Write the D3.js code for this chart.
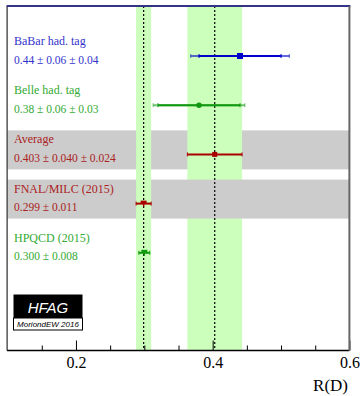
<!DOCTYPE html>
<html>
<head>
<meta charset="utf-8">
<script src="https://cdn.jsdelivr.net/npm/d3@7"></script>
<style>
  body { margin: 0; background: #fff; }
  svg { display: block; }
</style>
</head>
<body>
<div id="chart"></div>
<script>
// Measurements and predictions of R(D)
var names = ["BaBar had. tag", "Belle had. tag", "Average", "FNAL/MILC (2015)", "HPQCD (2015)"];
var valueLabels = ["0.44 \u00b1 0.06 \u00b1 0.04", "0.38 \u00b1 0.06 \u00b1 0.03",
  "0.403 \u00b1 0.040 \u00b1 0.024", "0.299 \u00b1 0.011", "0.300 \u00b1 0.008"];
var values = [0.44, 0.38, 0.403, 0.299, 0.300];
var statErr = [0.06, 0.06, 0.040, 0.011, 0.008];
var systErr = [0.04, 0.03, 0, 0, 0];
var markers = ["square", "circle", "square", "flat", "flat"];
var colors = ["#0000cc", "#119911", "#aa0000", "#aa0000", "#119911"];
var textColors = ["#3333cc", "#33aa33", "#aa2222", "#aa2222", "#33aa33"];
var shadedRows = [2, 3];

// bands: FNAL/MILC prediction and the average
var bandCenters = [0.299, 0.403];
var bandHalfWidths = [0.011, 0.040];

var xTicksMajor = [0.2, 0.4, 0.6];
var xTicksMinor = [0.15, 0.25, 0.3, 0.35, 0.45, 0.5, 0.55];

var width = 363, height = 396,
  plotLeft = 7.6, plotRight = 349.4, plotTop = 6, plotBottom = 350.5;

var x = d3.scaleLinear().domain([0.1, 0.6]).range([plotLeft, plotRight]);
var y = d3.scaleLinear().domain([0, 4]).range([56, 252.8]);

var svg = d3.select("#chart").append("svg")
  .attr("width", width)
  .attr("height", height);

var serif = '"Liberation Serif", "Times New Roman", Times, serif';

// grey rows (average row first, then wide band, FNAL row, narrow band)
svg.append("rect")
  .attr("x", plotLeft).attr("width", plotRight - plotLeft)
  .attr("y", y(shadedRows[0]) - 24).attr("height", 39)
  .style("fill", "#cccccc");

svg.append("rect")
  .attr("x", x(bandCenters[1] - bandHalfWidths[1]))
  .attr("width", x(bandCenters[1] + bandHalfWidths[1]) - x(bandCenters[1] - bandHalfWidths[1]))
  .attr("y", plotTop).attr("height", plotBottom - plotTop)
  .style("fill", "#ccffbb");

svg.append("rect")
  .attr("x", plotLeft).attr("width", plotRight - plotLeft)
  .attr("y", y(shadedRows[1]) - 24).attr("height", 39)
  .style("fill", "#cccccc");

svg.append("rect")
  .attr("x", x(bandCenters[0] - bandHalfWidths[0]))
  .attr("width", x(bandCenters[0] + bandHalfWidths[0]) - x(bandCenters[0] - bandHalfWidths[0]))
  .attr("y", plotTop).attr("height", plotBottom - plotTop)
  .style("fill", "#ccffbb");

// dotted central lines
svg.selectAll(".centre")
  .data(bandCenters)
  .enter().append("line")
    .attr("x1", function(d) { return x(d); })
    .attr("x2", function(d) { return x(d); })
    .attr("y1", plotTop).attr("y2", plotBottom)
    .style("stroke", "#000")
    .style("stroke-width", 1.2)
    .style("stroke-dasharray", "2,2");

// labels
names.forEach(function(name, i) {
  svg.append("text")
    .text(name)
    .attr("x", 14)
    .attr("y", y(i) - 11)
    .style("font-family", serif)
    .style("font-size", "12px")
    .style("fill", textColors[i]);
  svg.append("text")
    .text(valueLabels[i])
    .attr("x", 14)
    .attr("y", y(i) + 7.5)
    .style("font-family", serif)
    .style("font-size", "11.5px")
    .style("fill", textColors[i]);
});

// error bars
values.forEach(function(v, i) {
  var yy = y(i);
  var tot = Math.sqrt(statErr[i] * statErr[i] + systErr[i] * systErr[i]);
  var g = svg.append("g");
  if (systErr[i] > 0) {
    // outer (total) part, lighter
    g.append("line")
      .attr("x1", x(v - tot)).attr("x2", x(v + tot))
      .attr("y1", yy).attr("y2", yy)
      .style("stroke", colors[i]).style("stroke-opacity", 0.6)
      .style("stroke-width", 2);
    [v - tot, v + tot].forEach(function(e) {
      g.append("line")
        .attr("x1", x(e)).attr("x2", x(e))
        .attr("y1", yy - 2).attr("y2", yy + 2)
        .style("stroke", colors[i]).style("stroke-opacity", 0.6)
        .style("stroke-width", 1);
    });
  }
  g.append("line")
    .attr("x1", x(v - statErr[i])).attr("x2", x(v + statErr[i]))
    .attr("y1", yy).attr("y2", yy)
    .style("stroke", colors[i])
    .style("stroke-width", 2);
  [v - statErr[i], v + statErr[i]].forEach(function(e) {
    g.append("line")
      .attr("x1", x(e)).attr("x2", x(e))
      .attr("y1", yy - 2).attr("y2", yy + 2)
      .style("stroke", colors[i])
      .style("stroke-width", 1);
  });

  if (markers[i] == "square") {
    var s = i == 0 ? 6 : 5;
    g.append("rect")
      .attr("x", x(v) - s / 2).attr("y", yy - s / 2)
      .attr("width", s).attr("height", s)
      .style("fill", colors[i]);
  } else if (markers[i] == "circle") {
    g.append("circle")
      .attr("cx", x(v)).attr("cy", yy).attr("r", 2.8)
      .style("fill", colors[i]);
  } else {
    g.append("rect")
      .attr("x", x(v) - 3).attr("y", yy - 3)
      .attr("width", 6).attr("height", 3)
      .style("fill", colors[i]);
    g.append("line")
      .attr("x1", x(v)).attr("x2", x(v))
      .attr("y1", yy).attr("y2", yy + 3)
      .style("stroke", colors[i]).style("stroke-width", 1.5);
  }
});

// axes
var axisG = svg.append("g")
  .attr("transform", "translate(0," + plotBottom + ")");
axisG.call(d3.axisBottom(x).tickValues(xTicksMinor).tickSize(-5).tickFormat(""));
var majorG = svg.append("g")
  .attr("transform", "translate(0," + plotBottom + ")");
majorG.call(d3.axisBottom(x).tickValues(xTicksMajor).tickSize(-10).tickPadding(6)
  .tickFormat(d3.format(".1f")));
svg.selectAll(".domain").remove();
svg.selectAll(".tick line").style("stroke", "#000");
majorG.selectAll("text")
  .style("font-family", serif)
  .style("font-size", "16px")
  .style("fill", "#000");

// frame
svg.append("line")
  .attr("x1", plotLeft - 0.5).attr("x2", plotRight)
  .attr("y1", plotBottom).attr("y2", plotBottom)
  .style("stroke", "#000").style("stroke-width", 1.5);
svg.append("line")
  .attr("x1", plotLeft - 0.5).attr("x2", plotLeft - 0.5)
  .attr("y1", plotTop).attr("y2", plotBottom)
  .style("stroke", "#000").style("stroke-width", 1);
svg.append("line")
  .attr("x1", plotLeft - 1).attr("x2", plotRight + 1)
  .attr("y1", plotTop).attr("y2", plotTop)
  .style("stroke", "#333388").style("stroke-width", 2);
svg.append("line")
  .attr("x1", plotRight).attr("x2", plotRight)
  .attr("y1", plotTop).attr("y2", plotBottom)
  .style("stroke", "#666").style("stroke-width", 2);

svg.append("text")
  .text("R(D)")
  .attr("x", 348).attr("y", 391)
  .style("text-anchor", "end")
  .style("font-family", serif)
  .style("font-size", "17px");

// HFAG logo
var logo = svg.append("g").attr("transform", "translate(13.5,294.5)");
logo.append("rect")
  .attr("width", 69).attr("height", 23.5)
  .style("fill", "#000");
logo.append("rect")
  .attr("y", 23.5).attr("width", 69).attr("height", 12)
  .style("fill", "#fff").style("stroke", "#000").style("stroke-width", 1);
logo.append("text")
  .text("HFAG")
  .attr("x", 34.5).attr("y", 18)
  .style("text-anchor", "middle")
  .style("font-family", '"Liberation Sans", Arial, sans-serif')
  .style("font-style", "italic")
  .style("font-size", "15px")
  .style("fill", "#fff");
logo.append("text")
  .text("MoriondEW 2016")
  .attr("x", 34.5).attr("y", 32.5)
  .style("text-anchor", "middle")
  .style("font-family", '"Liberation Sans", Arial, sans-serif')
  .style("font-style", "italic")
  .style("font-size", "8px")
  .style("fill", "#000");
</script>
</body>
</html>
